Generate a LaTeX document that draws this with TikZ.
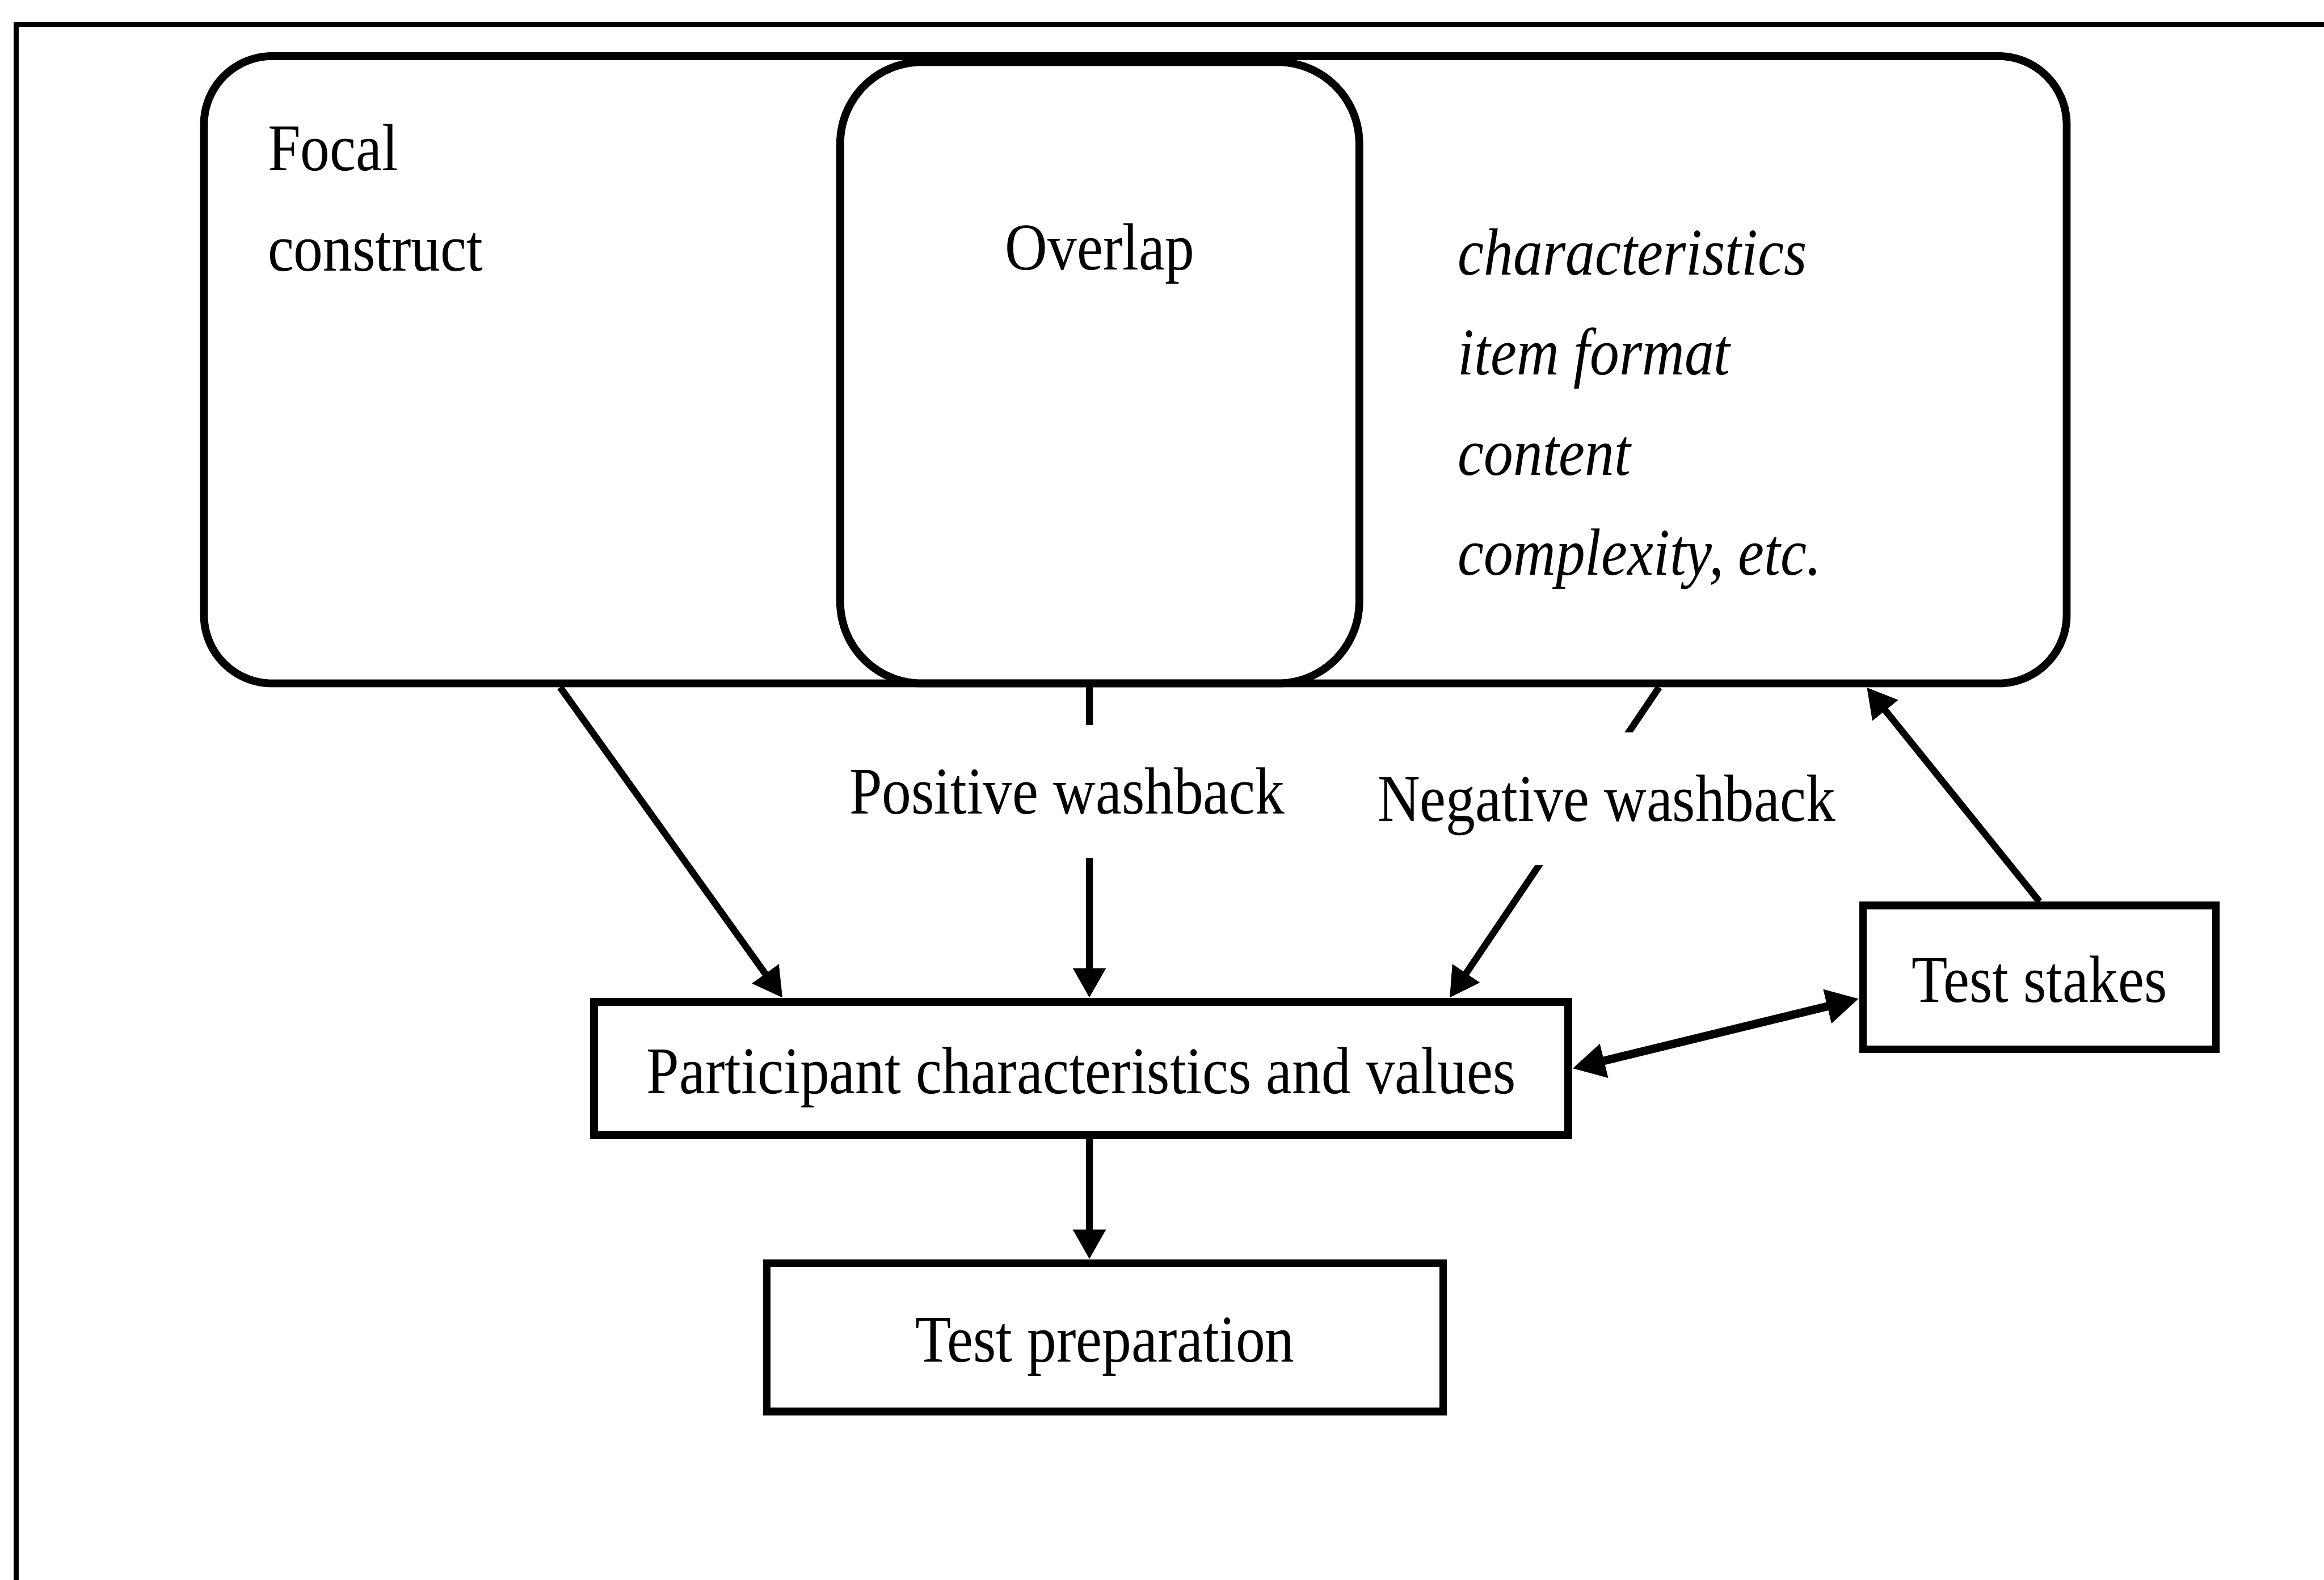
\documentclass[tikz,border=0pt]{standalone}
\usepackage{fontspec}
\setmainfont{Liberation Serif}[FakeStretch=0.88]
\usepackage{tikz}
\usetikzlibrary{arrows.meta,positioning,calc}
\tikzstyle{roundbox} = [rectangle, draw, line width=1.5pt, rounded corners=0.46cm,
                        inner sep=0pt]
\tikzstyle{box} = [rectangle, draw, line width=1.5pt, align=center, inner sep=0pt,
                   text height=10pt, text depth=0.5pt]
\tikzstyle{washtext} = [fill=white, inner sep=0pt, text height=17pt, text depth=8.5pt]
\tikzstyle{arrow} = [-{Triangle[length=0.2cm,width=0.21cm]}, line width=1.3pt]
\tikzstyle{twoway} = [{Triangle[length=0.22cm,width=0.22cm]}-{Triangle[length=0.22cm,width=0.22cm]},
                      line width=1.6pt]

\begin{document}
\fontsize{12.8pt}{19.2pt}\selectfont
\begin{tikzpicture}[x=0.01cm, y=-0.01cm]
    \useasboundingbox (0,0) rectangle (1568,1066);
    % outer frame
    \draw [line width=1pt] (11,1070) -- (11,16.5) -- (1572,16.5);

    \node [roundbox, minimum width=12.56cm, minimum height=4.23cm] (construct) at (766,249.5) {};
    \node [roundbox, rounded corners=0.55cm, minimum width=3.5cm, minimum height=4.19cm] (overlap) at (742,251.5) {};
    % base of a multi-line node = baseline of its last line
    \node [anchor=base west, align=left, inner sep=0pt] (focal) at (180,182.6) {Focal\\construct};
    \node [anchor=base] (overlaptext) at (742,182) {Overlap};
    \node [anchor=base west, align=left, inner sep=0pt, font=\itshape] (method) at (983,388)
          {characteristics\\item format\\content\\complexity, etc.};

    \node [box, minimum width=6.57cm, minimum height=0.9cm] (ptc) at (729.5,721) {Participant characteristics and values};
    \node [box, minimum width=2.38cm, minimum height=0.97cm] (stakes) at (1376,659.5) {Test stakes};
    \node [box, minimum width=4.56cm, minimum height=1cm, below=0.81cm of ptc, xshift=0.16cm] (prep) {Test preparation};

    \coordinate (posx) at (735,0);
    \draw [arrow] ($(construct.south west)!0.1925!(construct.south east)$) -- ($(ptc.north west)!0.196!(ptc.north east)$);
    \draw [arrow] (overlap.south -| posx) -- (ptc.north -| posx);
    \draw [arrow] ($(construct.south west)!0.78!(construct.south east)$) -- ($(ptc.north west)!0.875!(ptc.north east)$);
    \draw [arrow] (stakes.north) -- ($(construct.south west)!0.891!(construct.south east)$);
    \draw [twoway] (ptc.east) -- ($(stakes.south west)!0.36!(stakes.north west)$);
    \draw [arrow] (ptc.south -| posx) -- (prep.north -| posx);

    \node [washtext, anchor=base] (poslabel) at (720,549) {Positive washback};
    \node [washtext, anchor=base] (neglabel) at (1084,554) {Negative washback};
\end{tikzpicture}
\end{document}
